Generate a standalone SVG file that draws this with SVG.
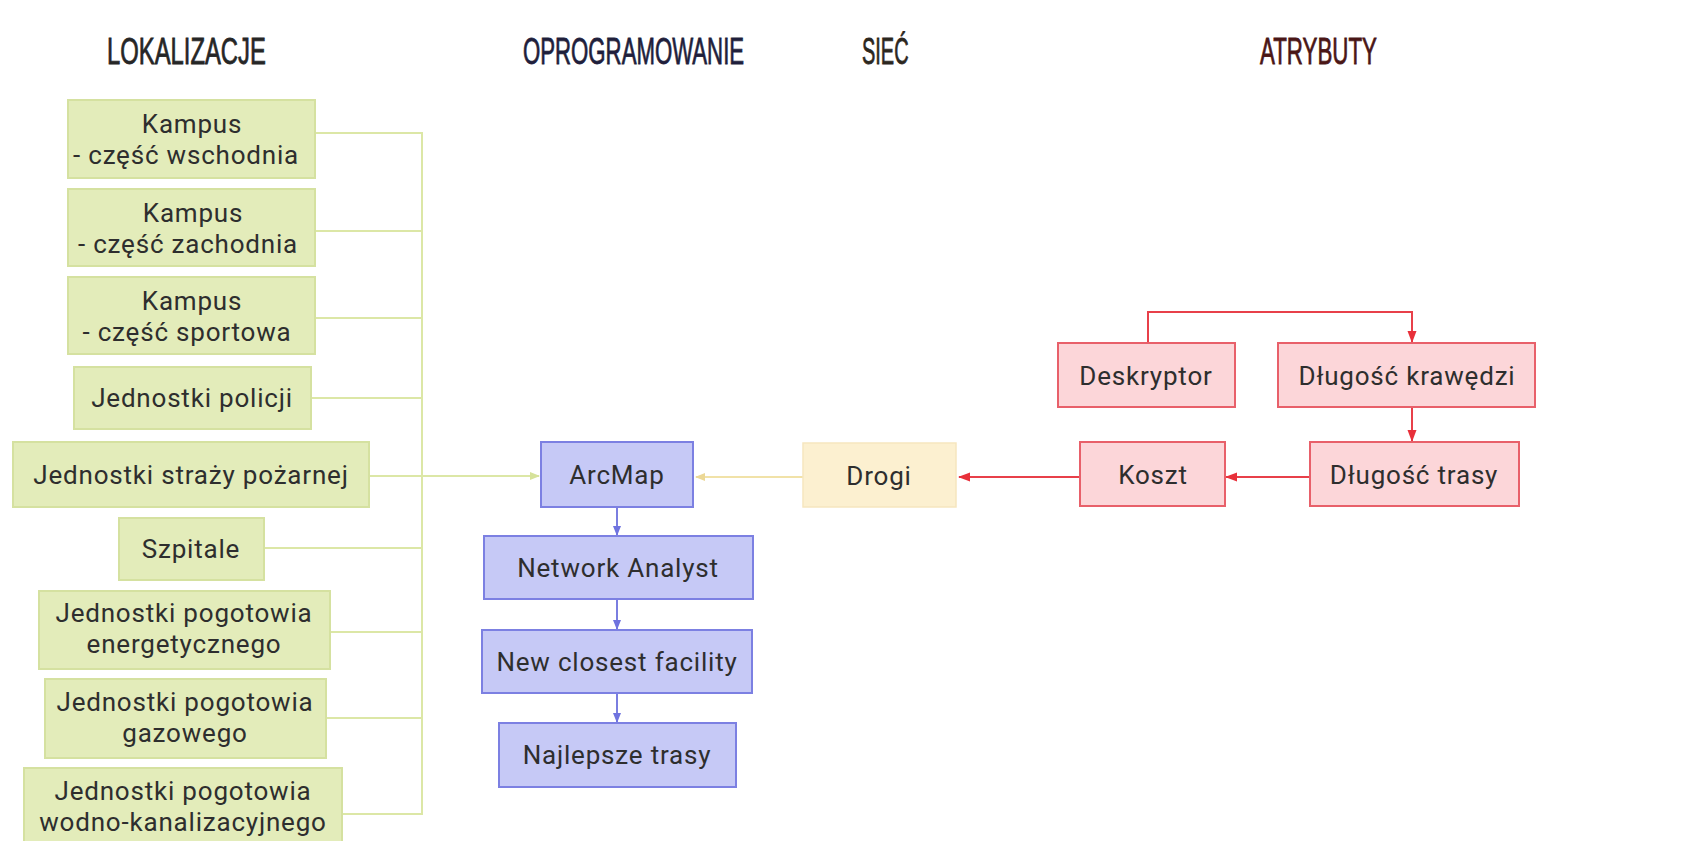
<svg xmlns="http://www.w3.org/2000/svg" width="1684" height="841" viewBox="0 0 1684 841">
<style>
.hdr{font-family:"Liberation Sans",Arial,sans-serif;font-size:37px;stroke-width:0.8;}
.t{font-family:Roboto,"Open Sans",sans-serif;font-size:26px;letter-spacing:0.8px;fill:#2e2e2e;text-anchor:middle;}
.g{fill:#e3ecba;stroke:#d5e1a0;stroke-width:2;}
.b{fill:#c6c9f6;stroke:#7c80e2;stroke-width:2;}
.y{fill:#fcf0d0;stroke:#f6e6bf;stroke-width:1.5;}
.r{fill:#fcd6d9;stroke:#e8606a;stroke-width:2;}
.cg{fill:none;stroke:#dce7a6;stroke-width:2;}
.cb{fill:none;stroke:#7a7ee0;stroke-width:2;}
.cy{fill:none;stroke:#f1e2a8;stroke-width:2;}
.cr{fill:none;stroke:#e8404a;stroke-width:2;}
</style>
<defs>
<marker id="ag" markerWidth="10" markerHeight="10" refX="9" refY="5" orient="auto" markerUnits="userSpaceOnUse"><path d="M0,1 L10,5 L0,9 Z" fill="#d6e29a"/></marker>
<marker id="ab" markerWidth="10" markerHeight="10" refX="9" refY="5" orient="auto" markerUnits="userSpaceOnUse"><path d="M0,1 L10,5 L0,9 Z" fill="#6f73df"/></marker>
<marker id="ay" markerWidth="10" markerHeight="10" refX="9" refY="5" orient="auto" markerUnits="userSpaceOnUse"><path d="M0,1 L10,5 L0,9 Z" fill="#ecd896"/></marker>
<marker id="ar" markerWidth="12" markerHeight="12" refX="11" refY="6" orient="auto" markerUnits="userSpaceOnUse"><path d="M0,1.5 L12,6 L0,10.5 Z" fill="#e8303a"/></marker>
</defs>
<rect width="1684" height="841" fill="#ffffff"/>

<g id="headers">
<text class="hdr" transform="translate(107,64) scale(0.644,1)" fill="#262626" stroke="#262626">LOKALIZACJE</text>
<text class="hdr" transform="translate(523,64) scale(0.6,1)" fill="#1f1f3c" stroke="#1f1f3c">OPROGRAMOWANIE</text>
<text class="hdr" transform="translate(862,64) scale(0.54,1)" fill="#2c271e" stroke="#2c271e">SIEĆ</text>
<text class="hdr" transform="translate(1260,64) scale(0.603,1)" fill="#4a1616" stroke="#4a1616">ATRYBUTY</text>
</g>

<g id="connectors">
<path class="cg" d="M315 133 H422 V814 H342"/>
<path class="cg" d="M315 231 H422"/>
<path class="cg" d="M315 318 H422"/>
<path class="cg" d="M311 398 H422"/>
<path class="cg" d="M264 548 H422"/>
<path class="cg" d="M330 632 H422"/>
<path class="cg" d="M326 718 H422"/>
<path class="cg" d="M369 476 H539" marker-end="url(#ag)"/>
<path class="cy" d="M803 477 H696" marker-end="url(#ay)"/>
<path class="cb" d="M617 507 V535" marker-end="url(#ab)"/>
<path class="cb" d="M617 599 V629" marker-end="url(#ab)"/>
<path class="cb" d="M617 693 V722" marker-end="url(#ab)"/>
<path class="cr" d="M1148 343 V312 H1412 V342" marker-end="url(#ar)"/>
<path class="cr" d="M1412 407 V441" marker-end="url(#ar)"/>
<path class="cr" d="M1310 477 H1226" marker-end="url(#ar)"/>
<path class="cr" d="M1080 477 H959" marker-end="url(#ar)"/>
</g>

<g id="kampus-wschodnia"><rect class="g" x="68" y="100" width="247" height="78"/><text class="t" y="133"><tspan x="192">Kampus</tspan><tspan x="186" dy="31">- część wschodnia</tspan></text></g>
<g id="kampus-zachodnia"><rect class="g" x="68" y="189" width="247" height="77"/><text class="t" y="222"><tspan x="193">Kampus</tspan><tspan x="188" dy="31">- część zachodnia</tspan></text></g>
<g id="kampus-sportowa"><rect class="g" x="68" y="277" width="247" height="77"/><text class="t" y="310"><tspan x="192">Kampus</tspan><tspan x="187" dy="31">- część sportowa</tspan></text></g>
<g id="policja"><rect class="g" x="74" y="367" width="237" height="62"/><text class="t" x="192" y="407">Jednostki policji</text></g>
<g id="straz"><rect class="g" x="13" y="442" width="356" height="65"/><text class="t" x="191" y="484">Jednostki straży pożarnej</text></g>
<g id="szpitale"><rect class="g" x="119" y="518" width="145" height="62"/><text class="t" x="191" y="558">Szpitale</text></g>
<g id="energetyczne"><rect class="g" x="39" y="591" width="291" height="78"/><text class="t" y="622"><tspan x="184">Jednostki pogotowia</tspan><tspan x="184" dy="31">energetycznego</tspan></text></g>
<g id="gazowe"><rect class="g" x="45" y="679" width="281" height="79"/><text class="t" y="711"><tspan x="185">Jednostki pogotowia</tspan><tspan x="185" dy="31">gazowego</tspan></text></g>
<g id="wodno"><rect class="g" x="24" y="768" width="318" height="84"/><text class="t" y="800"><tspan x="183">Jednostki pogotowia</tspan><tspan x="183" dy="31">wodno-kanalizacyjnego</tspan></text></g>

<g id="arcmap"><rect class="b" x="541" y="442" width="152" height="65"/><text class="t" x="617" y="484">ArcMap</text></g>
<g id="network-analyst"><rect class="b" x="484" y="536" width="269" height="63"/><text class="t" x="618" y="577">Network Analyst</text></g>
<g id="new-closest-facility"><rect class="b" x="482" y="630" width="270" height="63"/><text class="t" x="617" y="671">New closest facility</text></g>
<g id="najlepsze-trasy"><rect class="b" x="499" y="723" width="237" height="64"/><text class="t" x="617" y="764">Najlepsze trasy</text></g>

<g id="drogi"><rect class="y" x="803" y="443" width="153" height="64"/><text class="t" x="879" y="485">Drogi</text></g>

<g id="deskryptor"><rect class="r" x="1058" y="343" width="177" height="64"/><text class="t" x="1146" y="385">Deskryptor</text></g>
<g id="dlugosc-krawedzi"><rect class="r" x="1278" y="343" width="257" height="64"/><text class="t" x="1407" y="385">Długość krawędzi</text></g>
<g id="koszt"><rect class="r" x="1080" y="442" width="145" height="64"/><text class="t" x="1153" y="484">Koszt</text></g>
<g id="dlugosc-trasy"><rect class="r" x="1310" y="442" width="209" height="64"/><text class="t" x="1414" y="484">Długość trasy</text></g>
</svg>
